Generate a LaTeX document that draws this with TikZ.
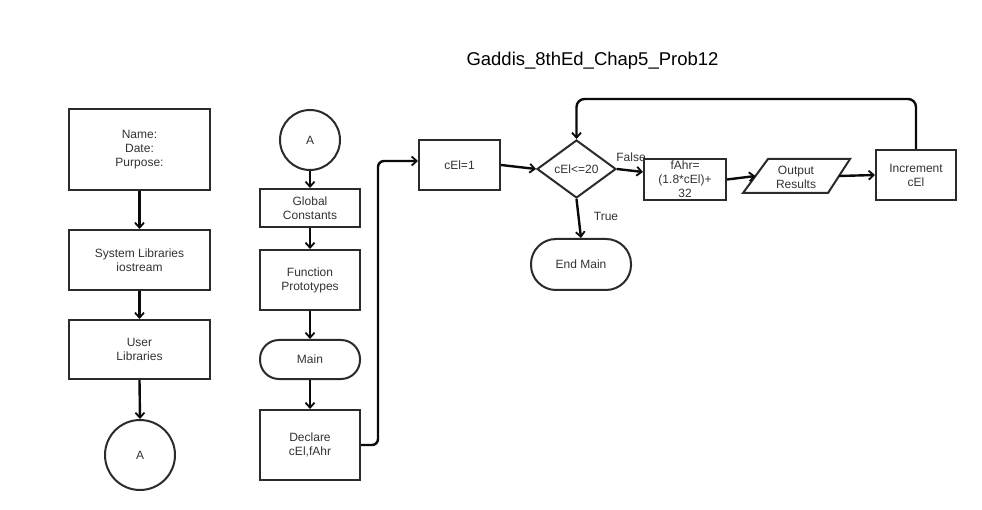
\documentclass[tikz,border=0pt]{standalone}
\usepackage{fontspec}
\setmainfont{Liberation Sans}
\usetikzlibrary{shapes.geometric,arrows.meta,calc}
\definecolor{bord}{HTML}{2B2B2B}
\definecolor{txt}{HTML}{333333}
\definecolor{lnk}{HTML}{0A0A0A}
\begin{document}
\begin{tikzpicture}[x=1pt,y=-1pt,
  every node/.style={text=txt, font=\fontsize{12}{14}\selectfont, align=center},
  box/.style={draw=bord, line width=2pt, rectangle, inner sep=1pt},
  stad/.style={box, rounded corners=#1},
  conn/.style={line width=2.4pt, draw=lnk, -{Straight Barb[length=5pt,width=9pt,line width=1.8pt]}},
  lbl/.style={inner sep=0pt}
]
\useasboundingbox[fill=white] (0,0) rectangle (982,510);

\node[inner sep=0pt, font=\fontsize{18.5}{20}\selectfont, text=black] (title) at (592.5,61) {Gaddis\_8thEd\_Chap5\_Prob12};

% left column
\node[box, minimum width=141pt, minimum height=81pt] (name) at (139.5,149.5) {Name:\\Date:\\Purpose:};
\node[box, minimum width=141pt, minimum height=60pt] (sys) at (139.5,260) {System Libraries\\iostream};
\node[box, minimum width=141pt, minimum height=59pt] (usr) at (139.5,349.5) {User\\Libraries};
\node[box, circle, minimum size=70pt, inner sep=0pt] (ca1) at (140,455) {A};

% second column
\node[box, circle, minimum size=60pt, inner sep=0pt] (ca2) at (310,140) {A};
\node[box, minimum width=100pt, minimum height=38pt] (glob) at (310,208) {Global\\Constants};
\node[box, minimum width=100pt, minimum height=60pt] (func) at (310,280) {Function\\Prototypes};
\node[stad=19pt, minimum width=100pt, minimum height=39pt] (main) at (310,359.5) {Main};
\node[box, minimum width=100pt, minimum height=70pt] (decl) at (310,445) {Declare\\cEl,fAhr};

% loop part
\node[box, minimum width=81pt, minimum height=50pt] (c1) at (459.5,165) {cEl=1};
\node[box, diamond, aspect=1.36, minimum width=79pt, minimum height=58pt, inner sep=0pt] (dia) at (576.5,169) {cEl<=20};
\node[box, minimum width=82pt, minimum height=41pt, inner sep=0pt] (fa) at (685,179.5) {fAhr=\\(1.8*cEl)+\\32};
\node[stad=25pt, minimum width=100pt, minimum height=51pt] (endm) at (581,264.5) {End Main};
\node[box, minimum width=80pt, minimum height=50pt] (inc) at (916,175) {Increment\\cEl};

% output parallelogram
\coordinate (o1) at (768,159);
\coordinate (o2) at (850,159);
\coordinate (o3) at (828,193);
\coordinate (o4) at (743,193);
\draw[draw=bord, line width=2pt, line join=miter] (o1) -- (o2) -- (o3) -- (o4) -- cycle;
\node[inner sep=0pt] (out) at (796,177) {Output\\Results};
\coordinate (outL) at (755.5,176);
\coordinate (outR) at (839,176);

% labels
\node[lbl] (fl) at (631,157) {False};
\node[lbl] (tl) at (606,216) {True};

% connectors
\draw[conn] (name.south) -- (sys.north);
\draw[conn] (sys.south) -- (usr.north);
\draw[conn] (usr.south) -- (ca1.north);
\draw[conn] (ca2.south) -- (glob.north);
\draw[conn] (glob.south) -- (func.north);
\draw[conn] (func.south) -- (main.north);
\draw[conn] (main.south) -- (decl.north);

\coordinate (lx) at (378,0);
\coordinate (c1in) at ($(c1.west)+(0,-4)$);
\draw[conn, rounded corners=6pt] (decl.east) -- (decl.east -| lx) -- (lx |- c1in) -- (c1in);

\draw[conn] (c1.east) -- (dia.west);
\coordinate (fain) at ($(fa.west)+(0,-7.5)$);
\draw[conn] (dia.east) -- (fain);
\draw[conn] (dia.south) -- (endm.north);
\draw[conn] (fa.east) -- (outL);
\draw[conn] (outR) -- (inc.west);

\coordinate (topy) at (0,99);
\draw[conn, rounded corners=8pt] (inc.north) -- (inc.north |- topy) -- (dia.north |- topy) -- (dia.north);
\end{tikzpicture}
\end{document}
